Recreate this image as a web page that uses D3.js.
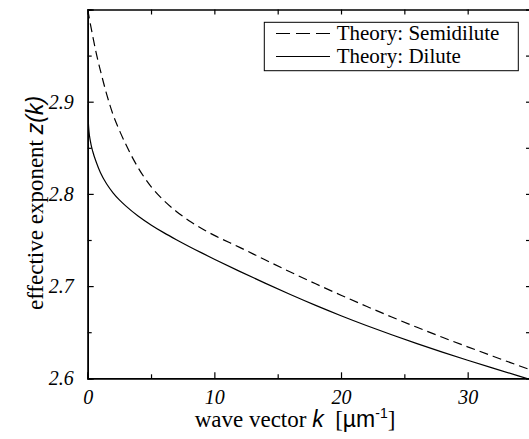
<!DOCTYPE html>
<html>
<head>
<meta charset="utf-8">
<script src="https://cdn.jsdelivr.net/npm/d3@7"></script>
<style>
  html, body { margin: 0; padding: 0; background: #fff; }
  svg { display: block; }
</style>
</head>
<body>
<svg id="chart" width="529" height="439"></svg>
<script>
// ---- data ----
const kValues = [0, 0.05, 0.1, 0.2, 0.4, 0.7, 1, 1.5, 2, 2.5, 3, 4, 5, 6, 7, 8, 9, 10, 12, 14, 16, 18, 20, 22, 24, 26, 28, 30, 32, 34, 35];
const semidilute = [3.000, 2.9963, 2.9925, 2.985, 2.971, 2.951, 2.934, 2.908, 2.886, 2.869, 2.854, 2.828, 2.808, 2.793, 2.781, 2.771, 2.7625, 2.755, 2.742, 2.7285, 2.7153, 2.7025, 2.6901, 2.6781, 2.6665, 2.6553, 2.6445, 2.6341, 2.6239, 2.6139, 2.609];
const dilute = [2.897, 2.878, 2.868, 2.858, 2.846, 2.8335, 2.8232, 2.8107, 2.8012, 2.7935, 2.787, 2.7758, 2.7664, 2.758, 2.7503, 2.743, 2.736, 2.7292, 2.716, 2.7032, 2.6909, 2.6791, 2.6679, 2.6573, 2.6472, 2.6376, 2.6284, 2.6196, 2.611, 2.6026, 2.5985];
const seriesNames = ["Theory: Semidilute", "Theory: Dilute"];
const xMajorTicks = [0, 10, 20, 30];
const xMinorTicks = [5, 15, 25];
const yMajorTicks = [2.6, 2.7, 2.8, 2.9];
const yMinorTicks = [2.65, 2.75, 2.85, 2.95];
const xDomain = [0, 35];
const yDomain = [2.6, 3.0];

// ---- layout ----
const L = 87.7, R = 531, T = 9.5, B = 378.3;
const serif = "'Liberation Serif', 'Times New Roman', serif";
const sans = "'Liberation Sans', Arial, sans-serif";
const svg = d3.select("#chart");
const x = d3.scaleLinear().domain(xDomain).range([L, R]);
const y = d3.scaleLinear().domain(yDomain).range([B, T]);

svg.append("defs").append("clipPath").attr("id", "plotclip")
  .append("rect").attr("x", L).attr("y", T).attr("width", R - L).attr("height", B - T);

// ---- curves ----
const line = d3.line().x(d => x(d[0])).y(d => y(d[1])).curve(d3.curveMonotoneX);
const g = svg.append("g").attr("clip-path", "url(#plotclip)");
g.append("path").datum(kValues.map((k, i) => [k, semidilute[i]]))
  .attr("d", line).attr("fill", "none").attr("stroke", "#000")
  .attr("stroke-width", 1.2).attr("stroke-dasharray", "9,5");
g.append("path").datum(kValues.map((k, i) => [k, dilute[i]]))
  .attr("d", line).attr("fill", "none").attr("stroke", "#000")
  .attr("stroke-width", 1.2);

// ---- axes ----
function styleAxis(sel) {
  sel.attr("font-family", null).attr("font-size", null);
  sel.select(".domain").attr("stroke", "#000").attr("stroke-width", 1.5);
  sel.selectAll(".tick line").attr("stroke", "#000").attr("stroke-width", 1.2);
  sel.selectAll(".tick text")
    .style("font-family", serif)
    .style("font-style", "italic").style("font-size", "20px").attr("fill", "#000");
}
const fmtX = d3.format("d");
const fmtY = d3.format(".1f");

svg.append("g").attr("transform", `translate(0,${B})`)
  .call(d3.axisBottom(x).tickValues(xMajorTicks).tickSize(-6).tickPadding(12).tickFormat(fmtX))
  .call(styleAxis);
svg.append("g").attr("transform", `translate(0,${B})`)
  .call(d3.axisBottom(x).tickValues(xMinorTicks).tickSize(-4).tickFormat(""))
  .call(styleAxis);
svg.append("g").attr("transform", `translate(0,${T})`)
  .call(d3.axisTop(x).tickValues(xMajorTicks.concat(xMinorTicks)).tickSize(-5).tickFormat(""))
  .call(styleAxis);

svg.append("g").attr("transform", `translate(${L},0)`)
  .call(d3.axisLeft(y).tickValues(yMajorTicks).tickSize(-6).tickPadding(14).tickFormat(fmtY))
  .call(styleAxis);
svg.append("g").attr("transform", `translate(${L},0)`)
  .call(d3.axisLeft(y).tickValues(yMinorTicks).tickSize(-4).tickFormat(""))
  .call(styleAxis);
svg.append("g").attr("transform", `translate(${R},0)`)
  .call(d3.axisRight(y).tickValues(yMajorTicks.concat(yMinorTicks)).tickSize(-5).tickFormat(""))
  .call(styleAxis);

// ---- axis titles ----
const xt = svg.append("text").attr("x", 295).attr("y", 427)
  .attr("text-anchor", "middle").style("font-size", "23px").attr("fill", "#000");
xt.append("tspan").style("font-family", serif).text("wave vector ");
xt.append("tspan").style("font-family", sans).style("font-style", "italic").text("k");
xt.append("tspan").style("font-family", serif).text("\u00a0 [");
xt.append("tspan").style("font-family", sans).text("\u00b5m");
xt.append("tspan").style("font-family", sans).style("font-size", "14px").attr("dy", -9).text("-1");
xt.append("tspan").style("font-family", serif).attr("dy", 9).text("]");

const yt = svg.append("text").attr("transform", "translate(43,203) rotate(-90)")
  .attr("text-anchor", "middle").style("font-size", "23px").attr("fill", "#000");
yt.append("tspan").style("font-family", serif).text("effective exponent ");
yt.append("tspan").style("font-family", sans).style("font-style", "italic").text("z(k)");

// ---- legend ----
const lg = svg.append("g");
lg.append("rect").attr("x", 264.3).attr("y", 22.3).attr("width", 254).attr("height", 48.4)
  .attr("fill", "#fff").attr("stroke", "#000").attr("stroke-width", 1);
const legendDash = ["14,6", null];
seriesNames.forEach((name, i) => {
  const yy = 33.5 + i * 23;
  const ln = lg.append("line").attr("x1", 276).attr("x2", 330).attr("y1", yy).attr("y2", yy)
    .attr("stroke", "#000").attr("stroke-width", 1.2);
  if (legendDash[i]) ln.attr("stroke-dasharray", legendDash[i]);
  lg.append("text").attr("x", 336.7).attr("y", yy + 6.5)
    .style("font-family", serif).style("font-size", "21px").attr("fill", "#000").text(name);
});
</script>
</body>
</html>
